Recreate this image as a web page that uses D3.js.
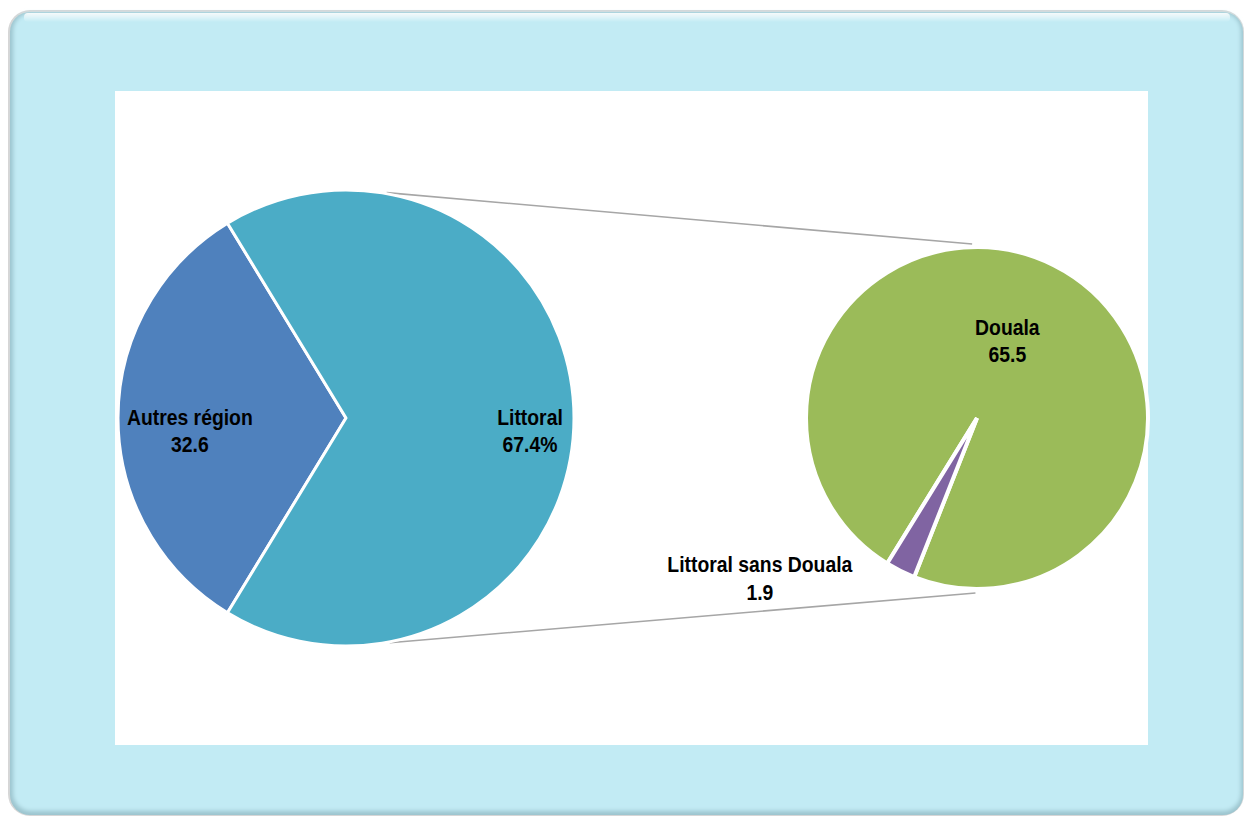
<!DOCTYPE html>
<html>
<head>
	<title></title>
	<script src="https://d3js.org/d3.v7.min.js" charset="utf-8"></script>
	<style type="text/css">
		body {
			margin: 0;
			background: #ffffff;
		}
		svg text {
			font-family: 'Liberation Sans', Arial, sans-serif;
			font-weight: bold;
			font-size: 22px;
			fill: #000000;
		}
	</style>
</head>
<body>
	<script type="text/javascript">
		// data
		var mainCategories = ['Autres région', 'Littoral'];
		var mainValues = [32.6, 67.4];
		var mainLabels = ['32.6', '67.4%'];

		var subCategories = ['Douala', 'Littoral sans Douala'];
		var subValues = [65.5, 1.9];
		var subLabels = ['65.5', '1.9'];

		var w = 1244;
		var h = 816;
		var deg = Math.PI / 180;

		var svg = d3.select('body')
			.append('svg')
			.attr('width', w)
			.attr('height', h);

		var defs = svg.append('defs');
		defs.append('filter')
			.attr('id', 'soft')
			.attr('x', '-5%').attr('y', '-5%').attr('width', '110%').attr('height', '110%')
			.append('feGaussianBlur')
			.attr('stdDeviation', 2.2);
		var hl = defs.append('linearGradient')
			.attr('id', 'hl')
			.attr('x1', 0).attr('y1', 0).attr('x2', 0).attr('y2', 1);
		hl.append('stop').attr('offset', '0%').attr('stop-color', '#ffffff').attr('stop-opacity', 0.9);
		hl.append('stop').attr('offset', '100%').attr('stop-color', '#ffffff').attr('stop-opacity', 0);

		// frame
		svg.append('rect')
			.attr('x', 8).attr('y', 10)
			.attr('width', 1236).attr('height', 806)
			.attr('rx', 22)
			.style('fill', '#d6d6d6');
		svg.append('rect')
			.attr('x', 10).attr('y', 12)
			.attr('width', 1233).attr('height', 803)
			.attr('rx', 20)
			.style('fill', '#9cc4ce');
		svg.append('rect')
			.attr('x', 13).attr('y', 13)
			.attr('width', 1228).attr('height', 798)
			.attr('rx', 18)
			.attr('filter', 'url(#soft)')
			.style('fill', '#c2ebf4');
		svg.append('rect')
			.attr('x', 24).attr('y', 13)
			.attr('width', 1206).attr('height', 9)
			.attr('rx', 4)
			.style('fill', 'url(#hl)');

		// plot area
		var plot = { x: 115, y: 91, w: 1033, h: 654 };
		svg.append('rect')
			.attr('x', plot.x).attr('y', plot.y)
			.attr('width', plot.w).attr('height', plot.h)
			.style('fill', '#ffffff');

		var main = { cx: 346, cy: 418, r: 228 };
		var sub = { cx: 977, cy: 418, r: 171 };

		var mainColor = d3.scaleOrdinal().domain(mainCategories).range(['#4f81bd', '#4bacc6']);
		var subColor = d3.scaleOrdinal().domain(subCategories).range(['#9bbb59', '#8064a2']);

		function polar(c, r, a) {
			return [c.cx + r * Math.sin(a), c.cy - r * Math.cos(a)];
		}

		// connector lines
		var links = [
			[polar(main, main.r + 1, 10.2 * deg), polar(sub, sub.r + 3, -1.6 * deg)],
			[polar(main, main.r + 1, 169 * deg), polar(sub, sub.r + 4, 180.5 * deg)]
		];
		svg.append('g')
			.selectAll('line')
			.data(links)
			.enter()
			.append('line')
			.attr('x1', function (d) { return d[0][0]; })
			.attr('y1', function (d) { return d[0][1]; })
			.attr('x2', function (d) { return d[1][0]; })
			.attr('y2', function (d) { return d[1][1]; })
			.style('stroke', '#a6a6a6')
			.style('stroke-width', 1.6);

		// main pie
		var mainSum = d3.sum(mainValues);
		var mainStart = 270 * deg - (mainValues[0] / mainSum) * Math.PI;
		var mainPie = d3.pie().sort(null)
			.startAngle(mainStart)
			.endAngle(mainStart + 2 * Math.PI);
		var mainArc = d3.arc().innerRadius(0).outerRadius(main.r);
		var mainData = mainPie(mainValues).map(function (d, i) {
			d.name = mainCategories[i];
			d.label = mainLabels[i];
			return d;
		});

		var gMain = svg.append('g')
			.attr('transform', 'translate(' + main.cx + ',' + main.cy + ')');
		gMain.selectAll('path')
			.data(mainData)
			.enter()
			.append('path')
			.attr('d', mainArc)
			.style('fill', function (d) { return mainColor(d.name); })
			.style('stroke', '#ffffff')
			.style('stroke-width', 3)
			.style('stroke-linejoin', 'round');

		// sub pie
		var subStart = 211.7 * deg;
		var subPie = d3.pie().sort(null)
			.startAngle(subStart)
			.endAngle(subStart + 2 * Math.PI);
		var subArc = d3.arc().innerRadius(0).outerRadius(sub.r);
		var subData = subPie(subValues).map(function (d, i) {
			d.name = subCategories[i];
			d.label = subLabels[i];
			return d;
		});

		var gSub = svg.append('g')
			.attr('transform', 'translate(' + sub.cx + ',' + sub.cy + ')');
		gSub.selectAll('path')
			.data(subData)
			.enter()
			.append('path')
			.attr('d', subArc)
			.style('fill', function (d) { return subColor(d.name); })
			.style('stroke', '#ffffff')
			.style('stroke-width', 4)
			.style('stroke-linejoin', 'miter');

		// labels (narrow font look via horizontal scale)
		var lineGap = 27.5;
		function label(g, x, y, d) {
			var t = g.append('text')
				.attr('text-anchor', 'middle')
				.attr('transform', 'translate(' + x + ',' + y + ') scale(0.88,1)');
			t.append('tspan').attr('x', 0).text(d.name);
			t.append('tspan').attr('x', 0).attr('dy', lineGap).text(d.label);
		}

		// label offsets from the slice centroid, in radius fraction and angle shift
		var mainLabelPos = [{ k: 0.685, shift: 0 }, { k: 0.807, shift: 0 }];
		mainData.forEach(function (d, i) {
			var a = (d.startAngle + d.endAngle) / 2 + mainLabelPos[i].shift * deg;
			var r = main.r * mainLabelPos[i].k;
			label(gMain, r * Math.sin(a), -r * Math.cos(a) + 7, d);
		});

		var subLabelPos = [{ k: 0.556, shift: -8 }, { k: 1.535, shift: 29.2 }];
		subData.forEach(function (d, i) {
			var a = (d.startAngle + d.endAngle) / 2 + subLabelPos[i].shift * deg;
			var r = sub.r * subLabelPos[i].k;
			label(gSub, r * Math.sin(a), -r * Math.cos(a) + 7, d);
		});
	</script>
</body>
</html>
